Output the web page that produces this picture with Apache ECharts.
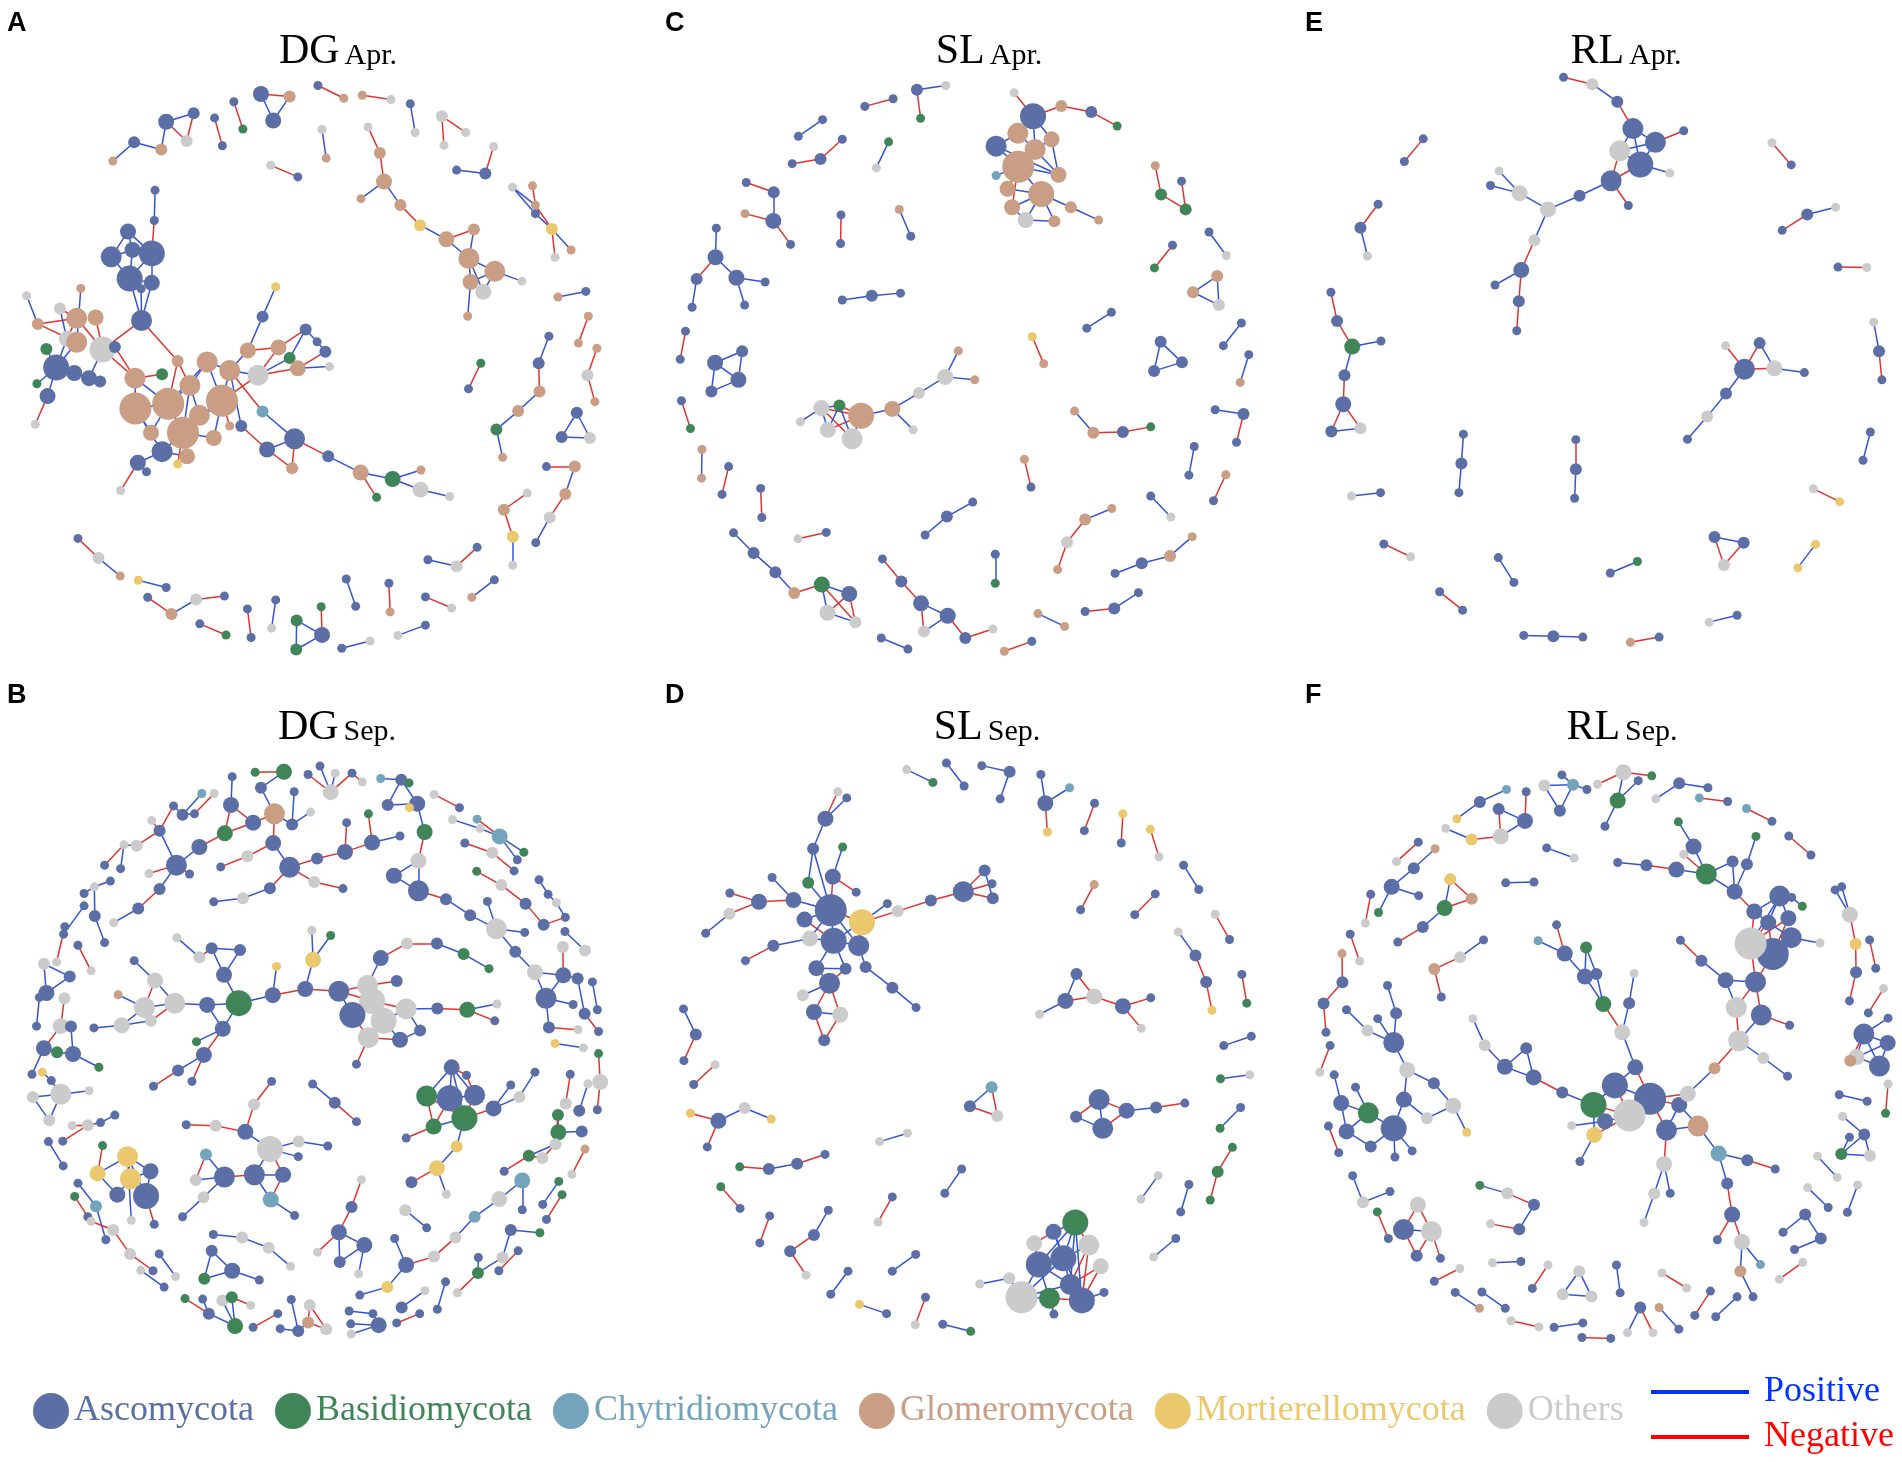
<!DOCTYPE html>
<html>
<head>
<meta charset="utf-8">
<script src="https://cdn.jsdelivr.net/npm/echarts@6.0.0/dist/echarts.min.js"></script>
<style>
  html, body { margin: 0; padding: 0; background: #fff; }
  #chart { width: 1902px; height: 1462px; }
</style>
</head>
<body>
<div id="chart"></div>
<script>
// 门类（图例顺序）
const phyla = ['Ascomycota', 'Basidiomycota', 'Chytridiomycota', 'Glomeromycota', 'Mortierellomycota', 'Others']
const signs = ['Negative', 'Positive']

// 每个面板：[字母, 样地, 月份]
const panelLabels = [['A', 'DG', 'Apr.'], ['C', 'SL', 'Apr.'], ['E', 'RL', 'Apr.'],
                     ['B', 'DG', 'Sep.'], ['D', 'SL', 'Sep.'], ['F', 'RL', 'Sep.']]

// 网络数据：每个连通分量 = [节点[x, y, 度等级, 门类], 边[i, j, 正负(1正 0负)]]
const dgApr = [
  [[[775,200,1,0],[838,230,1,3]],[[0,1,0]]],
  [[[883,223,1,3],[953,233,1,5]],[[0,1,0]]],
  [[[1000,243,1,0],[1012,310,1,5]],[[0,1,1]]],
  [[[1077,272,2,5],[1135,310,1,5],[1082,340,1,5]],[[0,1,0],[0,2,0]]],
  [[[1203,343,1,5],[1183,406,2,0],[1113,398,1,0]],[[0,1,0],[1,2,1]]],
  [[[1249,438,1,5],[1298,435,1,3],[1305,480,1,3],[1305,500,1,0],[1345,536,2,4],[1353,602,1,5],[1392,585,1,3]],[[0,2,1],[1,2,0],[2,4,0],[3,4,1],[0,3,1],[4,5,0],[4,6,1]]],
  [[[1360,695,1,3],[1428,682,1,0]],[[0,1,1]]],
  [[[1434,740,1,3],[1410,803,1,3]],[[0,1,0]]],
  [[[1455,815,1,3],[1432,878,2,5],[1450,940,1,3]],[[0,1,0],[1,2,0]]],
  [[[1406,966,2,0],[1369,1023,2,0],[1438,1025,2,5]],[[0,1,1],[1,2,1],[0,2,1]]],
  [[[1338,787,1,0],[1313,850,2,0],[1315,916,2,3],[1263,962,2,3],[1210,1005,2,1],[1225,1070,1,3]],[[0,1,1],[1,2,0],[2,3,1],[3,4,1],[4,5,1]]],
  [[[1172,850,1,1],[1142,910,1,0]],[[0,1,0]]],
  [[[1332,1092,1,0],[1401,1092,2,3],[1378,1156,2,3],[1340,1211,2,5],[1306,1270,1,0]],[[0,1,0],[1,2,1],[2,3,0],[3,4,1]]],
  [[[1285,1154,1,5],[1228,1193,2,3],[1250,1256,2,4],[1250,1323,1,5]],[[0,1,0],[1,2,0],[2,3,1]]],
  [[[1163,1281,1,0],[1113,1325,2,5],[1043,1310,1,0]],[[0,1,0],[1,2,1]]],
  [[[1205,1357,1,0],[1150,1398,1,3]],[[0,1,1]]],
  [[[1037,1397,1,0],[1101,1423,1,5]],[[0,1,0]]],
  [[[1037,1463,1,0],[970,1487,1,5]],[[0,1,1]]],
  [[[902,1500,1,5],[833,1517,1,0]],[[0,1,1]]],
  [[[948,1365,1,0],[951,1432,1,3]],[[0,1,0]]],
  [[[844,1355,1,0],[867,1419,1,0]],[[0,1,1]]],
  [[[783,1420,1,1],[785,1486,3,0],[723,1452,2,1],[722,1520,2,1]],[[0,1,0],[2,1,1],[2,3,1],[3,1,1]]],
  [[[672,1404,1,0],[662,1470,1,5]],[[0,1,1]]],
  [[[603,1425,1,0],[612,1492,1,0]],[[0,1,0]]],
  [[[487,1460,1,0],[551,1486,1,1]],[[0,1,0]]],
  [[[360,1398,1,0],[418,1437,2,3],[478,1403,2,5],[547,1395,1,0]],[[0,1,0],[1,2,1],[2,3,0]]],
  [[[337,1358,1,4],[405,1375,1,0]],[[0,1,1]]],
  [[[190,1260,1,0],[240,1306,2,5],[293,1348,1,3]],[[0,1,0],[1,2,1]]],
  [[[275,377,1,3],[327,333,2,0],[393,350,2,3],[405,285,3,0],[472,265,2,0],[455,330,2,5]],[[0,1,1],[1,2,1],[2,3,1],[3,4,1],[3,5,0],[4,5,0]]],
  [[[523,276,1,0],[542,341,1,0]],[[0,1,0]]],
  [[[570,238,1,0],[592,302,1,1]],[[0,1,0]]],
  [[[636,220,3,0],[706,226,2,3],[666,282,3,0]],[[0,1,0],[0,2,1],[1,2,1]]],
  [[[785,303,1,5],[795,370,1,3]],[[0,1,1]]],
  [[[660,387,1,5],[726,414,1,0]],[[0,1,0]]],
  [[[897,297,1,5],[926,358,2,3],[936,425,3,3],[880,465,1,3],[976,480,2,3],[1024,527,2,4],[1088,560,3,3],[1155,537,2,3],[1143,605,4,3],[1206,635,4,3],[1147,660,3,3],[1178,683,3,5],[1272,658,1,5],[1140,740,1,3]],
   [[0,1,0],[1,2,0],[2,3,1],[2,4,1],[4,5,0],[5,6,1],[6,7,0],[6,8,1],[7,8,1],[8,9,1],[8,10,1],[8,11,1],[9,12,1],[9,10,1],[10,13,1],[9,11,1]]],
  [[[378,445,1,0],[376,516,1,0],[312,542,3,0],[323,585,3,0],[370,593,5,0],[271,601,4,0],[316,652,5,0],[370,662,3,0],[344,676,1,0],[345,750,4,0],
    [65,692,1,5],[92,758,2,3],[146,722,2,5],[197,675,1,3],[187,745,4,3],[233,743,3,3],[163,793,3,5],[187,801,4,3],[113,817,2,1],[250,818,5,5],[280,812,2,0],[137,860,5,0],[90,898,1,1],[181,873,3,0],[217,885,3,0],[244,893,2,0],[116,927,3,0],[86,993,1,5],
    [329,885,4,3],[395,876,2,1],[433,845,2,3],[505,847,4,3],[560,867,4,3],[463,902,4,3],[330,956,6,3],[410,945,6,3],[541,938,6,3],[486,972,4,3],[368,1013,3,3],[446,1013,6,3],[521,1025,3,3],[395,1057,4,0],[336,1083,3,0],[357,1104,1,0],[433,1086,1,4],[456,1068,3,3],[294,1148,1,5],[560,997,1,3],[588,997,2,0],
    [672,671,1,4],[640,741,2,0],[604,820,3,3],[679,813,3,3],[745,771,2,0],[773,800,1,0],[793,823,2,0],[706,838,2,1],[726,862,3,3],[803,858,1,5],[629,878,4,5],[640,963,2,2],[718,1027,4,0],[651,1052,3,0],[712,1096,2,3],[800,1068,2,0],[879,1106,3,3],[957,1121,3,1],[918,1164,1,1],[1026,1100,1,3],[1025,1146,3,5],[1096,1162,1,5]],
   [[0,1,1],[1,4,0],[2,3,1],[2,5,1],[3,4,1],[3,5,1],[5,6,1],[3,6,1],[4,7,1],[6,7,1],[2,4,1],[6,9,1],[7,9,1],[8,9,1],[4,6,1],
    [10,11,1],[11,14,0],[11,17,0],[12,16,1],[13,17,1],[14,16,0],[14,19,0],[15,19,0],[16,17,0],[16,21,1],[18,21,1],[19,20,1],[19,24,1],[21,22,1],[21,23,1],[21,26,1],[23,24,1],[24,25,1],[26,27,0],[17,21,1],[12,14,0],
    [9,19,0],[9,30,0],[28,19,0],[28,29,0],[28,34,1],[28,35,1],[20,28,0],
    [30,35,0],[30,33,0],[31,33,1],[31,36,1],[31,32,1],[32,36,1],[33,35,1],[33,37,1],[35,34,1],[35,39,1],[35,38,1],[36,37,1],[36,39,1],[37,39,1],[39,40,1],[39,41,1],[41,42,1],[42,43,1],[42,46,0],[41,45,1],[39,44,0],[38,34,1],[34,41,1],[32,48,1],[36,47,0],[40,36,1],[31,35,1],[33,39,1],
    [49,50,1],[50,51,1],[51,32,1],[51,52,0],[52,53,0],[52,59,0],[53,54,1],[54,55,1],[55,57,0],[56,57,1],[56,53,1],[57,59,0],[57,58,1],[59,32,1],[59,36,0],[32,60,0],[60,61,1],[61,62,1],[62,63,0],[61,63,0],[61,64,0],[62,48,0],[64,65,1],[65,67,0],[65,66,1],[66,68,1],[66,69,1],[69,70,1],[59,56,1]]]
]

const slApr = [
  [[[912,217,1,5],[958,272,5,0],[1027,248,2,3],[1100,262,2,0],[1163,295,1,1],[921,312,4,3],[1003,326,3,3],[868,342,4,0],[963,350,4,3],[922,390,6,3],[1020,409,3,3],[868,411,1,2],[896,442,3,3],[978,454,5,3],[907,485,3,3],[1050,485,2,3],[1118,515,1,3],[940,515,3,5],[1010,518,2,3]],
   [[0,1,0],[1,2,0],[2,3,0],[3,4,0],[1,5,1],[1,6,1],[1,8,1],[5,7,1],[7,9,1],[5,8,1],[8,9,1],[8,10,1],[9,10,1],[9,12,0],[9,13,1],[12,13,1],[13,14,1],[13,15,1],[15,16,1],[14,17,1],[13,17,1],[13,18,1],[17,18,1],[11,9,1],[7,10,1],[6,8,1],[6,10,1],[9,14,0]]],
  [[[548,249,1,0],[617,231,1,0]],[[0,1,0]]],
  [[[675,210,2,0],[745,200,1,5],[684,277,1,1]],[[0,1,1],[0,2,0]]],
  [[[445,280,1,0],[386,319,1,0]],[[0,1,1]]],
  [[[493,326,1,0],[440,372,2,0],[371,383,1,0]],[[0,1,0],[1,2,0]]],
  [[[606,332,1,1],[576,393,1,5]],[[0,1,1]]],
  [[[259,427,1,0],[326,450,2,0],[325,517,3,0],[256,500,1,3],[367,572,1,0]],[[0,1,0],[1,2,1],[3,2,0],[2,4,0]]],
  [[[490,503,1,0],[489,570,1,0]],[[0,1,0]]],
  [[[632,490,1,3],[660,553,1,0]],[[0,1,1]]],
  [[[186,534,1,0],[184,602,3,0],[138,653,2,0],[127,719,1,0],[235,650,3,0],[305,660,1,0],[255,714,1,0]],[[0,1,1],[1,2,0],[2,3,1],[1,4,1],[4,5,1],[4,6,1]]],
  [[[493,702,1,0],[565,692,2,0],[635,686,1,0]],[[0,1,1],[1,2,1]]],
  [[[111,775,1,0],[98,841,1,0]],[[0,1,0]]],
  [[[183,849,3,0],[249,822,2,0],[240,889,3,0],[174,916,2,0]],[[0,1,1],[0,2,1],[1,2,1],[0,3,1],[2,3,1]]],
  [[[101,938,1,0],[123,1003,1,1]],[[0,1,0]]],
  [[[151,1052,1,3],[150,1119,1,3]],[[0,1,1]]],
  [[[216,1092,1,0],[200,1157,1,0]],[[0,1,0]]],
  [[[294,1143,1,0],[297,1211,1,0]],[[0,1,0]]],
  [[[385,1261,1,5],[454,1246,1,0]],[[0,1,0]]],
  [[[228,1247,1,0],[277,1294,2,0],[330,1339,2,0],[376,1388,2,3],[443,1368,3,1],[510,1390,3,0],[457,1434,3,5],[525,1456,2,5]],[[0,1,1],[1,2,1],[2,3,1],[3,4,0],[4,5,1],[4,6,1],[4,7,0],[5,6,0],[5,7,0],[6,7,1]]],
  [[[588,1493,1,0],[653,1519,1,0]],[[0,1,1]]],
  [[[591,1308,1,0],[637,1361,2,0],[685,1412,3,0],[692,1478,2,5],[750,1441,3,0],[793,1493,2,0],[860,1472,1,5]],[[0,1,0],[1,2,0],[2,3,0],[2,4,1],[3,4,1],[4,5,0],[5,6,0]]],
  [[[866,1297,1,0],[866,1365,1,1]],[[0,1,1]]],
  [[[888,1524,1,3],[955,1501,1,0]],[[0,1,0]]],
  [[[970,1436,1,3],[1035,1466,1,3]],[[0,1,1]]],
  [[[1085,1431,1,0],[1156,1424,2,0],[1215,1387,1,0]],[[0,1,0],[1,2,1]]],
  [[[1158,1342,1,0],[1223,1318,2,0],[1292,1301,2,3],[1346,1256,1,3]],[[0,1,1],[1,2,1],[2,3,1]]],
  [[[1018,1333,1,3],[1041,1269,2,5],[1085,1216,2,3],[1150,1190,1,3]],[[0,1,0],[1,2,0],[2,3,1]]],
  [[[1245,1161,1,0],[1294,1210,1,5]],[[0,1,1]]],
  [[[1428,1111,1,3],[1398,1172,1,0]],[[0,1,0]]],
  [[[1351,1045,1,0],[1338,1112,1,0]],[[0,1,1]]],
  [[[1402,959,1,0],[1471,969,2,0],[1454,1035,1,0]],[[0,1,1],[1,2,0]]],
  [[[1059,962,1,3],[1105,1013,2,3],[1177,1011,2,0],[1245,999,1,1]],[[0,1,1],[1,2,0],[2,3,0]]],
  [[[1484,830,1,0],[1463,895,1,3]],[[0,1,1]]],
  [[[1466,756,1,0],[1422,809,1,0]],[[0,1,1]]],
  [[[1269,800,2,0],[1321,848,2,0],[1253,868,2,0]],[[0,1,1],[1,2,1],[0,2,1]]],
  [[[1149,731,1,0],[1089,768,1,0]],[[0,1,1]]],
  [[[1407,646,2,3],[1348,684,2,3],[1411,714,2,5]],[[0,1,1],[1,2,1],[0,2,1]]],
  [[[1387,543,1,0],[1429,598,1,5]],[[0,1,1]]],
  [[[1298,574,1,0],[1254,627,1,1]],[[0,1,0]]],
  [[[1256,388,1,3],[1270,455,2,1],[1330,490,2,1],[1320,424,1,0]],[[0,1,0],[1,2,0],[3,2,0]]],
  [[[956,788,1,4],[984,851,1,3]],[[0,1,0]]],
  [[[937,1075,1,3],[953,1140,1,0]],[[0,1,0]]],
  [[[695,1252,1,0],[748,1209,2,0],[811,1175,1,0]],[[0,1,1],[1,2,1]]],
  [[[776,821,1,3],[744,882,3,5],[816,889,1,3],[680,920,2,5],[615,957,3,3],[666,1006,1,5],[539,973,5,3],[486,949,2,1],[442,955,3,5],[458,1006,3,5],[517,1027,4,5],[391,987,1,5]],
   [[0,1,1],[1,2,1],[1,3,1],[3,4,1],[4,5,1],[4,6,1],[6,7,0],[6,8,0],[6,9,0],[6,10,1],[11,8,1],[7,10,1],[8,10,0],[9,7,1],[8,9,1],[7,8,1]]]
]

const rlApr = [
  [[[735,181,1,0],[805,197,2,5],[866,238,2,0],[904,301,4,0],[959,333,4,0],[872,353,4,5],[922,385,5,0],[994,405,1,5],[1028,306,1,0],[851,423,4,0],[893,481,1,0],[774,458,2,0],[697,490,3,5],[628,452,3,5],[578,400,1,5],[557,434,1,0],[664,562,2,5],[632,632,3,0],[568,667,1,0],[626,705,2,0],[621,774,1,0]],
   [[0,1,0],[1,2,1],[2,3,0],[3,4,1],[3,5,1],[3,6,1],[4,5,1],[4,6,1],[4,8,0],[5,6,1],[6,7,1],[6,9,0],[5,9,0],[9,10,0],[9,11,1],[11,12,1],[12,13,1],[13,14,1],[13,15,1],[12,16,1],[16,17,0],[17,18,1],[17,19,0],[19,20,0]]],
  [[[393,325,1,0],[347,378,1,0]],[[0,1,0]]],
  [[[283,478,1,0],[240,533,2,0],[257,599,1,5]],[[0,1,0],[1,2,1]]],
  [[[1243,334,1,5],[1290,386,1,0]],[[0,1,0]]],
  [[[1398,485,1,5],[1329,502,2,0],[1268,539,1,0]],[[0,1,1],[1,2,0]]],
  [[[1404,625,1,0],[1474,626,1,5]],[[0,1,0]]],
  [[[1491,754,1,5],[1504,822,2,0],[1511,889,1,0]],[[0,1,1],[1,2,0]]],
  [[[168,684,1,0],[183,751,2,0],[220,811,3,1],[290,798,1,0],[201,878,2,0],[198,946,3,0],[169,1010,2,0],[240,1002,2,5]],[[0,1,0],[1,2,0],[2,3,1],[2,4,1],[4,5,0],[5,6,0],[5,7,0],[6,7,1]]],
  [[[1130,809,1,5],[1176,864,4,0],[1213,803,2,0],[1249,862,3,5],[1322,872,1,0],[1131,921,2,0],[1085,975,2,5],[1037,1028,1,0]],[[0,1,0],[2,1,0],[2,3,1],[1,3,0],[3,4,1],[1,5,1],[5,6,1],[6,7,1]]],
  [[[1483,1011,1,0],[1465,1077,1,0]],[[0,1,1]]],
  [[[491,1016,1,0],[486,1085,2,0],[480,1153,1,0]],[[0,1,1],[1,2,1]]],
  [[[765,1029,1,0],[765,1098,2,0],[762,1166,1,0]],[[0,1,0],[1,2,1]]],
  [[[218,1161,1,5],[289,1153,1,0]],[[0,1,1]]],
  [[[1344,1144,1,5],[1408,1174,1,4]],[[0,1,0]]],
  [[[297,1273,1,0],[362,1303,1,5]],[[0,1,0]]],
  [[[576,1305,1,0],[614,1363,1,0]],[[0,1,1]]],
  [[[849,1341,1,0],[915,1314,1,1]],[[0,1,1]]],
  [[[1103,1257,2,0],[1174,1270,2,0],[1126,1322,2,5]],[[0,1,1],[0,2,0],[1,2,0]]],
  [[[1349,1274,1,4],[1306,1329,1,4]],[[0,1,1]]],
  [[[433,1385,1,0],[489,1428,1,0]],[[0,1,0]]],
  [[[638,1487,1,0],[710,1489,2,0],[782,1491,1,0]],[[0,1,1],[1,2,1]]],
  [[[898,1503,1,3],[968,1491,1,0]],[[0,1,0]]],
  [[[1090,1456,1,5],[1158,1440,1,0]],[[0,1,1]]]
]

const dgSep = [
  [[[622,238,1,1],[692,237,3,1],[636,273,2,0],[717,282,1,0],[669,332,4,3],[617,352,3,0],[666,398,3,0],[706,453,4,0],[566,248,1,0],[563,312,3,0],[548,376,3,1],[712,356,2,0],[757,328,1,5],[773,433,2,0],[841,418,3,0],[907,397,3,0],[975,382,1,0],[845,352,1,0],[898,332,1,1],[766,486,2,5],[836,501,1,0],[658,500,2,0],[592,523,2,5],[521,531,1,0],[603,428,2,5],[538,452,1,0],[486,407,3,0],[430,448,4,0],[363,467,1,5],[462,468,1,0],[389,502,2,0],[337,546,2,0],[277,578,1,5],[389,370,2,0],[333,404,2,5],[370,347,1,5],[423,314,1,0],[445,334,2,0],[492,286,1,2],[474,332,1,0],[522,286,1,5],[302,402,1,5],[255,448,1,0],[294,456,1,0]],
   [[0,1,0],[1,2,1],[2,4,1],[3,11,1],[4,5,0],[4,6,0],[6,7,1],[8,9,1],[9,5,0],[9,10,0],[5,10,0],[4,11,1],[11,12,1],[7,13,0],[13,14,0],[14,15,0],[15,16,1],[14,17,0],[15,18,0],[7,19,0],[19,20,0],[7,21,0],[21,22,1],[22,23,1],[6,24,0],[24,25,0],[10,26,0],[26,27,1],[27,28,0],[27,29,0],[27,30,1],[30,31,0],[31,32,1],[27,33,1],[33,34,0],[35,33,0],[33,36,0],[36,37,1],[37,38,1],[39,40,0],[37,39,1],[34,41,1],[41,42,0],[41,43,1]]],
  [[[780,224,1,0],[806,283,3,5],[751,243,1,0],[817,240,1,5],[858,240,1,0],[883,260,1,5]],[[0,1,1],[2,1,0],[4,1,0],[3,1,1],[4,5,0]]],
  [[[928,252,1,2],[978,255,2,0],[997,262,1,1],[945,312,2,0],[1017,309,3,0],[998,318,1,4],[1035,373,3,1],[1020,438,3,5],[960,472,3,0],[1020,506,4,0],[1087,525,2,0],[1146,561,2,0],[1210,592,4,5],[1279,600,1,0],[1188,530,1,0],[1256,644,2,0],[1304,690,3,5],[1331,749,4,0],[1338,815,2,0],[1397,763,1,0],[1373,697,3,0],[1372,633,2,5],[1408,704,2,0],[1425,784,2,0],[1459,824,1,0],[1409,820,1,5]],
   [[0,1,1],[1,2,1],[1,3,1],[1,4,1],[3,4,1],[4,5,1],[4,6,1],[6,7,0],[7,8,1],[7,9,1],[8,9,1],[9,10,0],[10,11,1],[11,12,1],[12,13,1],[14,12,1],[12,15,1],[15,16,1],[16,17,1],[17,18,1],[17,19,1],[20,21,0],[20,16,1],[20,22,1],[22,23,1],[23,24,0],[20,17,1],[25,18,0]]],
  [[[1058,288,1,5],[1120,318,1,0]],[[0,1,0]]],
  [[[1103,345,1,5],[1170,365,1,5],[1163,344,1,2],[1218,383,3,2],[1261,436,1,0],[1277,419,1,1]],[[0,1,1],[2,3,0],[3,4,1],[3,5,1],[1,3,1]]],
  [[[1133,398,1,0],[1200,420,2,5],[1253,461,1,0]],[[0,1,0],[1,2,0]]],
  [[[1162,462,1,1],[1222,493,2,5],[1281,535,2,0],[1325,583,2,0],[1378,566,1,0],[1314,481,1,0],[1336,514,1,0],[1356,533,1,5]],[[0,1,0],[1,2,0],[2,3,0],[3,4,0],[5,6,1],[6,7,1],[7,4,1]]],
  [[[1377,598,1,0],[1426,641,2,5]],[[0,1,1]]],
  [[[1444,712,1,0],[1456,775,1,0]],[[0,1,1]]],
  [[[1353,851,1,4],[1422,861,1,5]],[[0,1,1]]],
  [[[1459,874,1,1],[1463,938,3,5],[1456,1001,1,0]],[[0,1,0],[1,2,0]]],
  [[[1390,921,1,0],[1379,987,2,5]],[[0,1,0]]],
  [[[1433,942,1,5],[1412,1003,2,0]],[[0,1,1]]],
  [[[1360,1013,2,1],[1361,1052,3,1],[1418,1050,2,0],[1354,1079,2,5],[1426,1090,1,3],[1394,1147,1,5],[1289,1105,2,1],[1229,1140,1,0],[1322,1110,2,5]],[[0,1,1],[1,2,1],[3,1,1],[0,3,0],[4,5,0],[7,6,0],[6,8,0],[8,3,0],[3,6,1]]],
  [[[1273,1161,3,2],[1273,1227,1,0],[1217,1203,3,5],[1157,1243,2,2],[1110,1290,2,5],[1058,1333,2,5],[990,1352,3,0],[944,1402,2,4],[877,1420,1,0],[962,1292,1,0]],[[0,1,1],[0,2,1],[2,3,1],[3,4,1],[4,5,0],[5,6,0],[6,7,1],[7,8,1],[6,9,1]]],
  [[[1362,1163,1,1],[1323,1215,1,0]],[[0,1,1]]],
  [[[1370,1193,1,1],[1332,1249,1,0]],[[0,1,0]]],
  [[[1245,1273,2,0],[1316,1279,1,1],[1225,1335,2,5],[1165,1370,2,1],[1166,1335,1,0],[1115,1415,1,5],[1263,1320,1,0],[1216,1365,1,0]],[[0,1,1],[0,2,1],[2,3,1],[3,4,1],[3,5,0],[6,7,0]]],
  [[[1086,1390,1,0],[1066,1452,1,0]],[[0,1,1]]],
  [[[1036,1410,1,5],[979,1448,2,0],[967,1483,1,0],[1023,1462,1,0]],[[0,1,1],[2,3,0]]],
  [[[851,1456,1,0],[909,1462,1,0],[923,1488,3,0],[856,1508,1,5],[855,1485,1,0]],[[0,1,1],[1,2,1],[2,4,1],[2,3,1]]],
  [[[1101,905,3,0],[1137,923,1,0],[1040,970,4,1],[1096,975,5,0],[1157,968,4,0],[1132,1020,5,1],[1057,1039,3,1],[1203,998,3,0],[990,1065,1,0],[1266,972,2,5],[1304,916,1,0],[1245,945,1,0],[1113,1084,2,4],[1065,1133,3,4],[1003,1165,2,0],[988,1228,2,5],[1040,1268,1,0],[1088,1192,1,5]],
   [[0,2,1],[0,3,1],[0,4,1],[0,5,1],[0,1,0],[1,4,0],[2,3,1],[3,4,1],[3,5,1],[2,6,0],[6,3,0],[6,5,1],[5,4,0],[2,5,0],[5,7,0],[6,8,0],[7,9,1],[9,10,1],[7,11,1],[5,12,1],[12,13,1],[13,14,0],[15,16,1],[13,17,1]]],
  [[[992,625,2,5],[928,658,3,0],[896,720,4,5],[1065,625,2,0],[1130,649,2,1],[1192,682,1,1],[967,710,2,0],[826,733,4,0],[907,755,5,5],[859,787,5,0],[935,800,5,5],[990,773,4,5],[898,838,4,5],[975,843,3,0],[1024,822,2,0],[869,898,1,0],[1066,772,2,0],[1139,775,3,1],[1211,762,1,5],[1206,800,1,0],
    [744,728,3,0],[763,662,3,4],[760,595,1,5],[806,607,1,1],[665,742,3,0],[674,677,1,4],[582,760,5,1],[505,764,3,0],[426,760,4,5],[352,770,4,5],[546,696,3,0],[516,636,2,0],[585,640,2,0],[486,656,2,5],[431,612,1,5],[543,818,3,0],[479,847,1,1],[497,877,3,0],[468,937,1,0],[434,912,2,0],[374,948,1,0],[288,741,1,3],[378,709,3,5],[327,664,1,0],[297,810,3,5],[229,816,1,0],[368,800,2,5]],
   [[0,1,0],[1,2,1],[0,3,0],[3,4,1],[4,5,1],[2,7,0],[2,8,1],[2,6,0],[7,8,0],[7,9,1],[9,8,1],[8,10,1],[10,11,1],[8,11,0],[9,12,0],[12,10,1],[10,13,1],[13,14,1],[11,14,1],[12,13,0],[12,15,0],[11,16,1],[16,17,0],[17,18,1],[17,19,0],
    [7,20,0],[20,21,1],[21,22,1],[21,23,1],[20,24,0],[24,25,1],[24,26,1],[26,27,1],[27,28,1],[28,29,1],[26,30,1],[30,31,1],[30,32,1],[31,32,1],[31,33,0],[33,34,1],[26,35,1],[27,35,1],[35,36,1],[35,37,0],[37,38,0],[37,39,1],[39,40,0],[29,41,1],[29,42,0],[42,43,1],[29,44,1],[44,45,1],[44,46,1],[28,46,0],[28,42,1]]],
  [[[190,629,1,0],[222,687,1,5]],[[0,1,0]]],
  [[[107,671,2,5],[170,700,2,0],[113,737,3,0],[96,747,1,0],[89,812,1,0]],[[0,1,1],[0,2,1],[2,1,1],[2,3,1],[3,4,1]]],
  [[[157,749,2,5],[148,812,3,5],[173,813,2,0],[107,862,3,0],[139,871,2,1],[178,875,3,0],[241,905,1,1],[78,921,1,0],[103,916,1,4],[125,935,1,0],[148,966,4,5],[80,972,2,5],[217,958,1,5],[120,1025,2,5]],
   [[0,1,0],[1,2,1],[1,3,0],[3,4,1],[4,5,1],[5,6,1],[2,5,1],[3,7,1],[8,9,1],[9,10,1],[11,10,1],[10,12,1],[11,13,1],[10,13,1]]],
  [[[158,587,1,0],[138,667,1,5]],[[0,1,0]]],
  [[[205,512,1,0],[230,497,1,5],[231,563,2,0],[255,623,1,0],[269,484,1,0],[205,540,1,0],[155,604,1,0]],[[0,1,1],[1,2,1],[2,3,1],[4,1,1],[5,6,1]]],
  [[[280,1013,1,0],[245,1030,1,0],[214,1036,2,5],[176,1037,1,5],[153,1072,1,0]],[[0,1,1],[1,2,1],[2,3,0],[4,2,0]]],
  [[[118,1073,1,0],[154,1128,1,0]],[[0,1,1]]],
  [[[250,1082,1,1],[238,1145,3,4],[311,1107,4,4],[318,1157,4,4],[367,1140,3,0],[286,1193,3,0],[356,1196,5,0],[320,1251,1,5],[376,1260,1,0]],[[0,1,0],[1,2,1],[1,5,1],[2,4,1],[2,3,1],[2,6,1],[3,4,1],[3,5,1],[3,6,1],[2,7,1],[6,8,0],[4,6,1]]],
  [[[190,1167,1,0],[234,1219,2,2],[258,1295,1,0],[182,1197,1,1],[214,1243,1,0]],[[0,1,1],[1,2,1],[3,4,0]]],
  [[[222,1253,1,5],[276,1273,2,5],[317,1327,2,5],[373,1365,1,0],[343,1364,1,5],[400,1402,1,0],[388,1327,1,0],[428,1378,1,5]],[[0,1,0],[1,2,0],[2,3,0],[4,5,1],[6,7,1]]],
  [[[662,937,1,0],[619,989,2,5],[598,1051,3,0],[526,1037,2,5],[454,1035,1,0],[658,1090,5,5],[728,1073,2,5],[799,1083,1,0],[727,1107,1,0],[620,1148,4,0],[547,1153,4,0],[502,1102,2,2],[690,1148,3,0],[660,1204,3,2],[718,1240,1,0],[477,1160,2,5],[496,1199,2,5],[445,1243,1,0]],
   [[0,1,0],[1,2,0],[2,3,0],[3,4,0],[2,5,1],[5,6,1],[6,7,1],[5,8,1],[5,9,1],[9,10,0],[10,11,1],[5,12,0],[9,12,1],[9,13,1],[13,14,1],[12,13,0],[10,15,1],[11,15,0],[10,16,1],[16,17,1]]],
  [[[762,943,1,0],[816,985,2,0],[869,1028,1,0]],[[0,1,1],[1,2,0]]],
  [[[881,1159,1,5],[857,1221,2,0],[826,1278,3,0],[888,1307,3,0],[828,1345,2,0],[874,1372,1,5],[774,1323,1,5]],[[0,1,0],[1,2,0],[2,3,1],[2,4,1],[3,4,1],[3,5,1],[2,6,0]]],
  [[[520,1283,1,0],[590,1290,2,5],[655,1313,2,5],[708,1355,1,5]],[[0,1,1],[1,2,1],[2,3,1]]],
  [[[516,1320,2,0],[566,1365,3,0],[632,1386,1,0],[498,1383,2,1]],[[0,1,1],[1,2,1],[0,3,1],[1,3,1]]],
  [[[451,1428,1,1],[509,1462,2,0],[573,1490,3,1],[494,1429,1,0],[542,1432,2,5],[565,1425,2,1],[611,1443,1,5]],[[0,1,0],[1,2,1],[3,1,1],[4,5,1],[5,6,0],[2,5,1],[4,2,1]]],
  [[[617,1493,1,0],[677,1462,1,0]],[[0,1,0]]],
  [[[710,1430,1,0],[727,1501,2,0],[755,1443,2,5],[751,1482,2,3],[795,1497,2,5],[683,1496,1,0]],[[0,1,1],[2,3,0],[3,4,0],[5,1,1],[1,3,1],[2,4,0]]]
]

const slSep = [
  [[[465,550,6,0],[541,577,5,4],[472,619,5,0],[533,630,4,0],[401,571,3,0],[414,614,3,5],[374,527,3,0],[470,474,3,0],[527,509,1,0],[410,488,2,1],[422,411,2,0],[452,343,3,0],[482,282,1,5],[504,296,1,0],[494,407,1,1],[290,531,3,0],[219,511,1,0],[218,558,2,5],[160,602,1,0],[322,476,1,0],[325,630,2,0],[257,664,1,0],[430,681,3,0],[501,682,2,0],[462,715,4,0],[397,742,2,5],[424,780,3,0],[488,786,3,5],[449,844,2,0],[550,678,2,0],[615,725,2,0],[673,770,1,0],[603,535,1,0],[628,552,2,5],[709,528,2,0],[788,508,4,0],[840,460,2,0],[858,490,1,0],[860,523,2,0]],
   [[0,1,0],[0,2,1],[0,3,1],[0,4,1],[0,6,1],[0,7,0],[7,8,0],[7,14,1],[0,9,1],[9,10,1],[10,11,1],[11,12,0],[11,13,1],[6,15,0],[15,16,0],[17,15,0],[17,18,1],[6,19,1],[2,5,1],[5,20,1],[20,21,0],[2,3,1],[2,22,1],[2,23,1],[3,29,1],[29,30,1],[30,31,1],[1,32,1],[1,33,0],[33,34,0],[34,35,0],[35,36,0],[35,37,0],[35,38,0],[36,38,1],[22,24,1],[23,24,0],[22,23,1],[24,25,1],[24,26,0],[24,27,0],[26,27,1],[26,28,0],[27,28,0],[1,3,0],[2,1,1],[4,2,0],[10,0,1],[0,5,1]]],
  [[[650,232,1,5],[714,261,1,1]],[[0,1,1]]],
  [[[747,217,1,0],[790,269,1,0]],[[0,1,1]]],
  [[[833,223,1,0],[901,237,2,0],[878,298,1,0]],[[0,1,1],[1,2,1]]],
  [[[977,243,1,0],[988,308,3,0],[1047,273,1,2],[993,373,1,4]],[[0,1,1],[1,2,1],[1,3,0]]],
  [[[1108,308,1,0],[1083,370,1,0]],[[0,1,0]]],
  [[[1177,332,1,4],[1173,398,1,0]],[[0,1,0]]],
  [[[1244,367,1,4],[1265,429,1,5]],[[0,1,0]]],
  [[[1325,448,1,0],[1362,503,1,0]],[[0,1,1]]],
  [[[1107,492,1,3],[1074,549,1,0]],[[0,1,0]]],
  [[[1256,513,1,0],[1206,560,1,0]],[[0,1,0]]],
  [[[1402,559,1,5],[1437,616,1,0]],[[0,1,0]]],
  [[[1312,599,1,5],[1354,652,2,0],[1380,712,2,0],[1394,776,1,4]],[[0,1,1],[1,2,0],[2,3,0]]],
  [[[1467,695,1,0],[1479,760,1,1]],[[0,1,0]]],
  [[[1490,835,1,0],[1423,856,1,0]],[[0,1,1]]],
  [[[1486,922,1,5],[1415,931,1,1]],[[0,1,1]]],
  [[[1464,996,1,0],[1414,1043,1,1]],[[0,1,1]]],
  [[[1444,1086,1,1],[1408,1141,2,1],[1390,1205,1,1]],[[0,1,0],[1,2,0]]],
  [[[1263,1150,1,5],[1221,1203,1,5]],[[0,1,1]]],
  [[[1338,1170,1,0],[1318,1232,1,0]],[[0,1,1]]],
  [[[1306,1292,1,0],[1252,1334,1,5]],[[0,1,1]]],
  [[[1064,694,2,0],[1037,755,3,0],[1107,745,3,5],[974,785,1,5],[1177,767,3,0],[1245,748,1,0],[1222,817,1,5]],[[0,1,1],[0,2,0],[1,2,0],[1,3,1],[2,4,0],[4,5,0],[4,6,0]]],
  [[[1119,978,4,0],[1063,1017,2,0],[1186,1003,3,0],[1128,1043,4,0],[1258,996,2,0],[1328,986,1,0]],[[0,1,0],[1,3,1],[0,3,1],[0,2,0],[3,2,0],[2,4,1],[4,5,0]]],
  [[[857,950,2,2],[804,993,2,0],[871,1015,2,5]],[[0,1,1],[1,2,0],[0,2,0]]],
  [[[1061,1256,5,1],[1008,1277,3,0],[961,1303,3,5],[1094,1307,4,5],[1032,1337,5,0],[972,1351,5,0],[1123,1355,3,5],[900,1382,2,5],[828,1395,1,5],[1049,1396,4,0],[930,1425,6,5],[998,1427,4,1],[1077,1432,5,0],[1131,1414,1,0],[1009,1463,1,0]],
   [[0,1,1],[0,4,1],[0,5,1],[1,2,0],[1,4,1],[2,5,1],[3,4,1],[5,4,1],[5,9,1],[4,9,1],[9,6,0],[3,9,0],[9,12,1],[12,13,1],[11,12,0],[10,5,1],[10,9,1],[10,11,1],[10,4,1],[11,14,1],[7,10,1],[8,7,1],[6,12,0],[3,12,0],[5,11,1],[0,9,1],[1,12,1],[0,3,0],[0,12,1]]],
  [[[106,773,1,0],[136,831,2,0],[107,890,1,0]],[[0,1,1],[1,2,0]]],
  [[[183,899,1,5],[131,944,1,0]],[[0,1,0]]],
  [[[123,1009,1,4],[191,1026,3,0],[255,997,2,5],[320,1022,1,4],[164,1085,1,0]],[[0,1,0],[1,2,1],[2,3,1],[1,4,0]]],
  [[[243,1130,1,1],[314,1135,2,0],[383,1123,2,0],[451,1102,1,0]],[[0,1,0],[1,2,1],[2,3,0]]],
  [[[584,1073,1,5],[652,1054,1,5]],[[0,1,1]]],
  [[[197,1175,1,1],[244,1224,1,0]],[[0,1,0]]],
  [[[316,1241,1,0],[292,1302,1,0]],[[0,1,0]]],
  [[[459,1228,1,0],[424,1284,2,0],[366,1321,2,0],[405,1375,1,5]],[[0,1,1],[1,2,0],[2,3,0]]],
  [[[580,1255,1,5],[615,1198,1,0]],[[0,1,0]]],
  [[[784,1135,1,0],[743,1190,1,0]],[[0,1,1]]],
  [[[672,1328,1,0],[615,1366,1,0]],[[0,1,1]]],
  [[[507,1366,1,0],[465,1418,1,0]],[[0,1,1]]],
  [[[535,1441,1,4],[601,1462,1,0]],[[0,1,1]]],
  [[[696,1425,1,0],[671,1487,1,5]],[[0,1,0]]],
  [[[738,1486,1,0],[806,1502,1,1]],[[0,1,1]]]
]

const rlSep = [
  [[[860,946,5,0],[946,976,6,0],[808,990,5,1],[896,1014,6,5],[910,905,3,0],[836,1027,3,0],[810,1058,3,4],[755,1037,1,5],[775,1118,1,0],[1017,990,3,0],[986,1047,4,0],[1063,1038,4,3],[1038,965,3,5],[732,962,2,0],[662,928,3,0],[644,862,2,0],[592,904,3,0],[543,855,2,5],[514,795,1,5],
    [878,826,3,5],[832,762,3,1],[815,694,2,0],[790,634,2,1],[787,700,3,0],[738,648,3,0],[673,619,1,2],[718,583,1,0],[895,760,2,0],[907,693,1,5],
    [980,1124,3,5],[956,1191,2,5],[931,1256,1,5],[995,1190,1,0],
    [1113,1100,3,2],[1183,1115,2,0],[1251,1135,1,0],[1134,1168,2,0],[1146,1238,3,0],[1110,1295,1,0],[1170,1300,3,5],[1215,1351,1,2],[1166,1366,2,3],[1197,1424,1,0],
    [1103,907,2,3],[1162,845,4,5],[1222,884,2,5],[1281,925,1,0],[1156,770,4,5],[1203,712,4,0],[1217,787,4,0],[1286,810,1,0],[1130,708,3,0],[1071,664,2,0],[1020,618,1,0],[1245,649,6,0],[1191,625,6,5],
    [1200,553,3,0],[1234,578,3,0],[1262,518,4,0],[1283,568,3,0],[1290,612,4,0],[1291,521,1,0],[1317,541,1,1],[1360,624,1,5],[1152,508,3,0],
    [1083,468,4,1],[1147,440,2,0],[1182,446,2,0],[1204,383,1,1],[1052,406,3,0],[1015,350,1,1],[1028,424,1,5],[1010,458,3,0],[937,448,2,0],[867,442,1,0]],
   [[0,1,1],[0,2,1],[0,3,0],[0,4,1],[1,4,0],[1,3,1],[1,9,0],[1,10,0],[1,12,0],[9,10,1],[10,11,1],[9,11,1],[2,5,1],[2,3,0],[2,13,1],[13,14,0],[14,15,1],[14,16,1],[15,16,1],[16,17,1],[17,18,1],[5,3,1],[6,3,0],[6,2,1],[7,5,1],[8,6,1],
    [4,19,1],[19,20,0],[20,21,1],[21,22,1],[20,23,1],[23,24,1],[24,25,1],[24,26,0],[23,22,1],[19,27,1],[27,28,1],
    [10,29,0],[29,30,1],[30,31,1],[29,32,1],
    [11,33,1],[33,34,1],[34,35,0],[33,36,1],[36,37,0],[37,38,0],[37,39,0],[39,40,1],[39,41,1],[41,42,1],
    [12,43,1],[43,44,0],[44,45,1],[45,46,1],[44,47,0],[47,48,0],[44,49,1],[49,50,0],[49,48,0],[47,51,1],[51,52,1],[52,53,0],[51,48,1],[48,54,0],[48,55,0],
    [56,58,1],[56,57,1],[56,55,0],[57,54,0],[58,57,1],[58,59,1],[59,54,0],[60,54,1],[60,63,1],[58,61,1],[61,62,1],[58,55,1],[59,55,0],[57,55,0],[64,56,0],[54,55,1],[57,60,1],
    [64,65,1],[64,66,1],[64,67,1],[67,68,1],[65,69,1],[69,70,1],[65,71,0],[65,72,1],[72,73,0],[73,74,1],[66,65,1],[69,71,0]]],
  [[[881,238,3,5],[950,246,1,1],[818,265,1,5],[867,302,3,1],[917,257,1,0],[836,360,1,0]],[[0,1,0],[0,2,0],[0,3,1],[3,4,1],[3,5,1]]],
  [[[731,244,1,0],[758,266,2,2],[688,268,2,5],[726,325,2,0],[792,277,1,0]],[[0,1,1],[2,1,1],[2,3,1],[1,3,1],[1,4,1]]],
  [[[1017,263,2,0],[1087,273,1,0],[960,298,1,5]],[[0,1,1],[0,2,1]]],
  [[[1066,296,1,2],[1135,304,1,0]],[[0,1,0]]],
  [[[1181,320,1,2],[1243,349,1,0]],[[0,1,0]]],
  [[[1284,382,1,0],[1338,425,1,0]],[[0,1,0]]],
  [[[644,282,1,0],[641,348,3,0],[577,321,2,0],[582,383,3,5],[511,390,2,4],[448,365,1,5],[596,277,1,2],[531,305,2,0],[475,343,1,4]],[[0,1,0],[1,2,1],[2,3,0],[1,3,1],[3,4,0],[4,5,1],[6,7,1],[7,8,1]]],
  [[[694,409,1,0],[761,432,1,5]],[[0,1,1]]],
  [[[594,488,1,0],[663,486,1,0]],[[0,1,1]]],
  [[[459,480,2,4],[445,545,3,1],[511,524,2,3],[392,588,2,0],[331,622,1,0]],[[0,1,1],[1,2,0],[0,2,0],[1,3,1],[3,4,0]]],
  [[[422,411,1,3],[370,455,2,0],[316,497,3,0],[382,517,1,0],[381,396,1,0],[328,440,1,5],[284,555,1,1]],[[0,1,1],[1,2,1],[2,3,1],[4,5,0],[2,6,1]]],
  [[[265,514,1,0],[252,579,1,5]],[[0,1,0]]],
  [[[540,617,1,0],[483,656,2,5],[420,683,2,3],[437,746,1,0]],[[0,1,1],[1,2,0],[2,3,0]]],
  [[[215,604,1,0],[238,665,1,5]],[[0,1,0]]],
  [[[195,648,1,3],[196,713,2,0],[150,761,2,0],[156,826,1,0]],[[0,1,0],[1,2,0],[2,3,0]]],
  [[[166,856,1,0],[141,916,1,5]],[[0,1,0]]],
  [[[306,720,1,0],[327,783,2,0],[321,849,4,0],[206,775,1,0],[257,822,2,5],[282,795,1,0],[354,911,3,5],[419,941,2,0],[466,992,3,5],[499,1052,1,4],[346,978,3,0],[321,1043,5,0],[402,1020,2,5],[265,1084,2,0],[206,1050,3,0],[324,1108,1,0],[366,1094,1,0],[259,1008,4,1],[193,986,3,0],[176,922,1,0],[228,950,1,0]],
   [[0,1,1],[1,2,1],[3,4,1],[4,2,1],[5,2,1],[2,6,1],[6,7,1],[7,8,1],[8,9,1],[6,10,1],[10,11,1],[10,12,1],[12,8,1],[11,13,1],[13,14,1],[11,15,1],[11,16,1],[14,17,1],[17,18,1],[19,18,1],[20,17,1],[17,11,1],[18,14,1]]],
  [[[162,1038,1,0],[187,1098,1,0]],[[0,1,0]]],
  [[[221,1150,1,0],[246,1210,2,5],[312,1186,1,0]],[[0,1,1],[1,2,1]]],
  [[[281,1232,1,1],[308,1292,1,0]],[[0,1,0]]],
  [[[380,1216,3,5],[345,1272,4,0],[413,1276,4,5],[377,1331,2,0],[435,1337,1,0]],[[0,1,0],[0,2,0],[1,2,1],[1,3,0],[2,3,0],[2,4,0]]],
  [[[531,1172,1,1],[598,1190,2,5],[663,1216,2,0],[627,1271,2,0],[557,1259,1,5]],[[0,1,1],[1,2,0],[2,3,1],[3,4,0]]],
  [[[482,1360,1,5],[420,1389,1,0]],[[0,1,0]]],
  [[[562,1347,1,5],[631,1344,1,0]],[[0,1,1]]],
  [[[471,1414,1,0],[530,1450,1,3]],[[0,1,1]]],
  [[[536,1413,1,0],[593,1450,1,0]],[[0,1,1]]],
  [[[697,1352,1,5],[659,1405,1,0]],[[0,1,0]]],
  [[[773,1366,2,5],[733,1418,2,5],[803,1423,2,5]],[[0,1,1],[1,2,1],[0,2,1]]],
  [[[864,1352,1,0],[873,1415,1,0]],[[0,1,1]]],
  [[[975,1370,1,5],[1035,1404,1,5]],[[0,1,0]]],
  [[[607,1478,1,5],[675,1492,1,5]],[[0,1,0]]],
  [[[712,1493,1,0],[782,1483,1,0]],[[0,1,1]]],
  [[[780,1516,1,0],[850,1518,1,0]],[[0,1,0]]],
  [[[922,1448,2,0],[891,1505,1,5],[953,1505,1,5]],[[0,1,1],[0,2,0]]],
  [[[968,1448,1,3],[1016,1497,1,0]],[[0,1,1]]],
  [[[1093,1411,1,0],[1055,1466,1,0]],[[0,1,0]]],
  [[[1158,1424,1,0],[1106,1469,1,0]],[[0,1,1]]],
  [[[1324,1238,2,0],[1270,1278,1,0],[1362,1292,2,0],[1298,1317,1,0]],[[0,1,1],[0,2,1],[2,3,1]]],
  [[[1318,1346,1,5],[1261,1384,1,5]],[[0,1,0]]],
  [[[1330,1177,1,5],[1380,1222,1,0]],[[0,1,1]]],
  [[[1354,1106,1,5],[1402,1154,1,5]],[[0,1,1]]],
  [[[1452,1171,1,5],[1427,1233,1,0]],[[0,1,1]]],
  [[[1415,1016,1,5],[1468,1057,2,0],[1412,1101,2,1],[1482,1105,2,5],[1432,1063,1,0]],[[0,1,1],[1,2,1],[2,3,1],[4,2,1],[1,3,1]]],
  [[[1407,967,1,0],[1475,982,1,0]],[[0,1,1]]],
  [[[1526,943,1,5],[1520,1009,1,1]],[[0,1,0]]],
  [[[1467,830,4,0],[1525,850,3,0],[1449,882,3,5],[1434,890,2,3],[1505,902,4,0],[1526,794,1,0]],[[0,1,1],[0,2,1],[0,4,1],[1,4,1],[2,4,1],[0,5,1],[3,0,0],[2,1,1]]],
  [[[1397,504,1,0],[1413,497,1,0],[1433,560,3,5],[1447,626,2,4],[1448,690,2,0],[1432,755,1,0]],[[0,2,1],[1,2,1],[2,3,0],[3,4,0],[4,5,0]]],
  [[[1481,617,1,0],[1496,681,1,0]],[[0,1,0]]],
  [[[1515,727,1,5],[1478,782,1,0]],[[0,1,0]]]
]

const networks = [dgApr, slApr, rlApr, dgSep, slSep, rlSep]

// 样式
const phylumColors = ['#5b6fa6', '#3f8557', '#74a4bb', '#c99e85', '#ebc86d', '#cbcbcb']
const edgeColors = ['#e2332f', '#3354d8']     // 负相关 / 正相关
const legendLineColors = ['#ff0000', '#0033ff']
const nodeSize = [0, 9, 12, 16, 21, 26, 32]   // 按度等级
const serif = "'Liberation Serif', 'DejaVu Serif', serif"

// 每个面板在画布上的位置（像素）与坐标轴范围
const cells = [
  { left: 0, top: 0, width: 640, height: 670, ymax: 1568 },
  { left: 640, top: 0, width: 640, height: 670, ymax: 1568 },
  { left: 1262, top: 0, width: 640, height: 670, ymax: 1568 },
  { left: 0, top: 667, width: 640, height: 690, ymax: 1560 },
  { left: 640, top: 667, width: 640, height: 690, ymax: 1560 },
  { left: 1262, top: 667, width: 640, height: 690, ymax: 1560 }
]
const XMAX = 1560

function buildGraph(comps) {
  const nodes = []
  const links = []
  comps.forEach(([ns, es]) => {
    const off = nodes.length
    ns.forEach(n => {
      nodes.push({
        value: [n[0], n[1]],
        symbolSize: nodeSize[n[2]],
        itemStyle: { color: phylumColors[n[3]] }
      })
    })
    es.forEach(e => {
      links.push({ source: off + e[0], target: off + e[1], lineStyle: { color: edgeColors[e[2]] } })
    })
  })
  return { nodes, links }
}

const chart = echarts.init(document.getElementById('chart'))

const grids = cells.map(c => ({ left: c.left, top: c.top, width: c.width, height: c.height, containLabel: false }))
const xAxes = cells.map((c, i) => ({ type: 'value', gridIndex: i, min: 0, max: XMAX, show: false }))
const yAxes = cells.map((c, i) => ({ type: 'value', gridIndex: i, min: 0, max: c.ymax, inverse: true, show: false }))

const series = networks.map((comps, i) => {
  const g = buildGraph(comps)
  return {
    type: 'graph',
    coordinateSystem: 'cartesian2d',
    xAxisIndex: i,
    yAxisIndex: i,
    layout: 'none',
    symbol: 'circle',
    silent: true,
    animation: false,
    data: g.nodes,
    links: g.links,
    lineStyle: { width: 1.5, opacity: 1, curveness: 0 },
    label: { show: false },
    emphasis: { disabled: true }
  }
})

// 图例用的空系列
phyla.forEach((name, k) => {
  series.push({ type: 'scatter', name: name, xAxisIndex: 0, yAxisIndex: 0, data: [], itemStyle: { color: phylumColors[k], opacity: 1 } })
})
signs.forEach((name, k) => {
  series.push({ type: 'line', name: name, xAxisIndex: 0, yAxisIndex: 0, data: [], itemStyle: { color: legendLineColors[k], opacity: 1 }, lineStyle: { color: legendLineColors[k] } })
})

// 标题：面板字母 + 样地/月份
const titleCenters = [333, 984, 1621, 332, 982, 1617]
const letterLeft = [2, 20, 38]
const titles = []
panelLabels.forEach((p, i) => {
  const c = cells[i]
  const row2 = i >= 3
  titles.push({
    text: p[0],
    left: c.left + letterLeft[i % 3],
    top: row2 ? 677 : 5,
    textStyle: { fontFamily: "'Liberation Sans', Arial, sans-serif", fontWeight: 'bold', fontSize: 27, color: '#000' }
  })
  titles.push({
    text: '{a|' + p[1] + '} {b|' + p[2] + '}',
    left: titleCenters[i],
    top: row2 ? 702 : 26,
    textAlign: 'center',
    textStyle: {
      fontWeight: 'normal',
      rich: {
        a: { fontFamily: serif, fontSize: 42, fontWeight: 'normal', color: '#000', verticalAlign: 'bottom', lineHeight: 42 },
        b: { fontFamily: serif, fontSize: 30, fontWeight: 'normal', color: '#000', verticalAlign: 'bottom', lineHeight: 42, padding: [0, 0, 2, 0] }
      }
    }
  })
})

chart.setOption({
  backgroundColor: '#fff',
  animation: false,
  title: titles,
  grid: grids,
  xAxis: xAxes,
  yAxis: yAxes,
  legend: [
    {
      data: phyla.map((name, k) => ({ name: name, icon: 'circle', textStyle: { color: phylumColors[k] } })),
      left: 28,
      top: 1388,
      itemWidth: 36,
      itemHeight: 36,
      itemGap: 21,
      selectedMode: false,
      textStyle: { fontFamily: serif, fontSize: 36 }
    },
    {
      data: [
        { name: 'Positive', icon: 'rect', textStyle: { color: legendLineColors[1] } },
        { name: 'Negative', icon: 'rect', textStyle: { color: legendLineColors[0] } }
      ],
      orient: 'vertical',
      left: 1646,
      top: 1369,
      itemWidth: 98,
      itemHeight: 4,
      itemGap: 9,
      selectedMode: false,
      textStyle: { fontFamily: serif, fontSize: 36, padding: [0, 0, 0, 10] }
    }
  ],
  series: series
})
</script>
</body>
</html>
